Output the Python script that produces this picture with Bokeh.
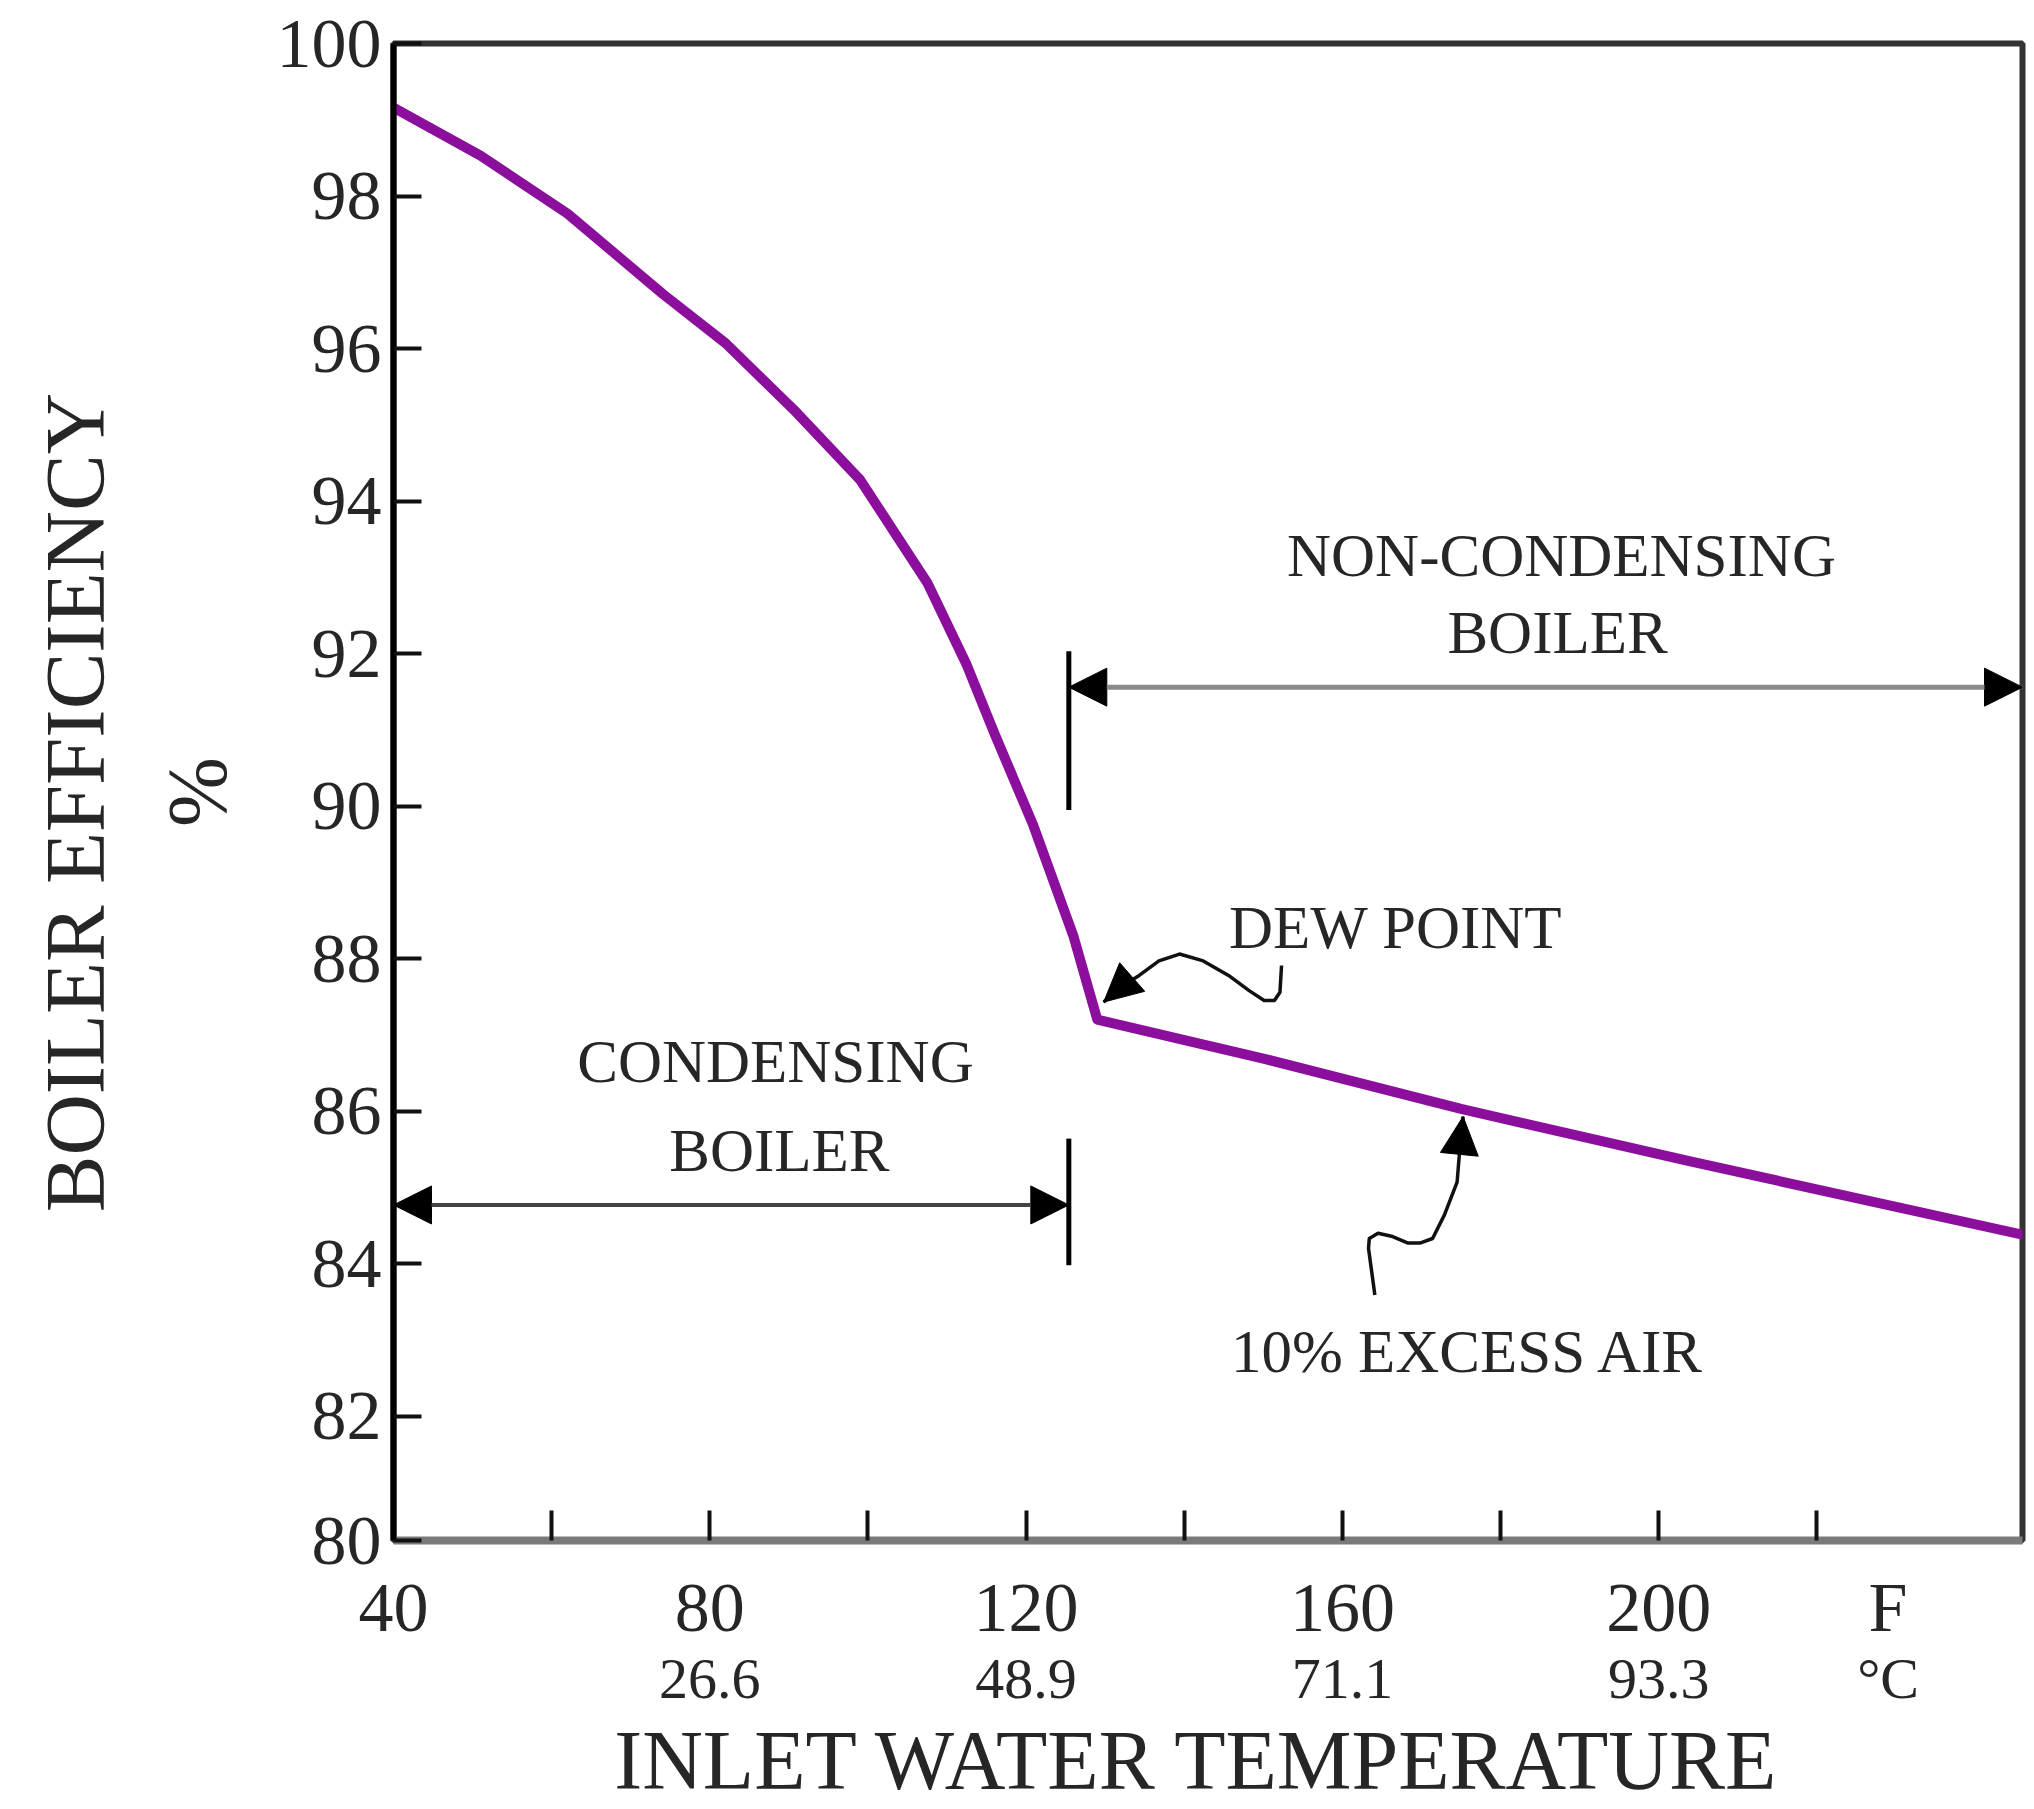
from bokeh.plotting import figure
from bokeh.models import Range1d, LinearAxis, FixedTicker, Arrow, NormalHead, Label
from bokeh.embed import file_html
from bokeh.resources import INLINE

# ---- data ----
temp_f = [40, 51, 62, 74, 82, 90.6, 99, 107.5, 112.5, 116, 120.9, 126, 129, 150, 175, 204, 246]
efficiency = [99.16, 98.53, 97.77, 96.72, 96.07, 95.2, 94.28, 92.93, 91.85, 90.95, 89.75, 88.29, 87.2,
              86.69, 86.03, 85.34, 84.38]

y_ticks = [82, 84, 86, 88, 90, 92, 94, 96, 98, 100]
y_bottom = 80.37
y_corner_label = "80"
x_tick_marks = [60, 80, 100, 120, 140, 160, 180, 200, 220]
f_positions = [40, 80, 120, 160, 200, 229]
f_labels = ["40", "80", "120", "160", "200", "F"]
c_positions = [80, 120, 160, 200, 229]
c_labels = ["26.6", "48.9", "71.1", "93.3", "\u00b0C"]

y_title = "BOILER  EFFICIENCY"
y_unit = "%"
x_title = "INLET  WATER TEMPERATURE"

boundary_f = 125.4
upper_arrow_y = 91.56
upper_bar = (89.95, 92.03)
lower_arrow_y = 84.77
lower_bar = (83.98, 85.64)

dew_x = [129.8, 132.0, 134.3, 136.8, 139.4, 142.4, 145.6, 148.2, 150.1, 151.4, 152.1, 152.3]
dew_y = [87.43, 87.63, 87.78, 87.97, 88.06, 87.97, 87.78, 87.58, 87.45, 87.45, 87.56, 87.91]
air_x = [175.26, 174.8, 174.5, 172.9, 171.4, 169.8, 168.3, 166.2, 164.5, 163.4, 163.3, 164.1]
air_y = [85.93, 85.45, 85.07, 84.64, 84.33, 84.27, 84.27, 84.36, 84.40, 84.33, 84.20, 83.59]

texts = [
    ("NON-CONDENSING", 187.7, 93.29),
    ("BOILER", 187.2, 92.28),
    ("CONDENSING", 88.3, 86.65),
    ("BOILER", 88.8, 85.49),
    ("DEW POINT", 166.75, 88.41),
    ("10% EXCESS AIR", 175.9, 82.85),
]

FONT = "Liberation Serif"
CURVE = "#8B0E9C"
TXT = "#262626"

p = figure(width=2034, height=1809,
           x_range=Range1d(40, 246), y_range=Range1d(y_bottom, 100),
           output_backend="svg", toolbar_location=None,
           x_axis_location=None, y_axis_location=None,
           min_border_left=393, min_border_right=12, min_border_top=43, min_border_bottom=266)
p.grid.visible = False
p.background_fill_color = "white"
p.border_fill_color = "white"
p.outline_line_color = "#333333"
p.outline_line_width = 6

# ---- left axes ----
yax = LinearAxis(ticker=FixedTicker(ticks=[y_bottom] + y_ticks),
                 major_label_overrides={y_bottom: y_corner_label})
yax.axis_line_color = "black"
yax.axis_line_width = 6
yax.major_tick_in = 28
yax.major_tick_out = 0
yax.major_tick_line_color = "#111111"
yax.major_tick_line_width = 4
yax.minor_tick_line_color = None
yax.major_label_text_font = FONT
yax.major_label_text_font_size = "70px"
yax.major_label_text_color = TXT
yax.major_label_standoff = 12
yax.axis_label = y_unit
yax.axis_label_text_font = FONT
yax.axis_label_text_font_size = "84px"
yax.axis_label_text_font_style = "normal"
yax.axis_label_text_color = TXT
yax.axis_label_standoff = 30
p.add_layout(yax, "left")

ytitle = LinearAxis(ticker=FixedTicker(ticks=[]))
ytitle.axis_line_color = None
ytitle.major_tick_line_color = None
ytitle.minor_tick_line_color = None
ytitle.major_label_standoff = 0
ytitle.axis_label = y_title
ytitle.axis_label_text_font = FONT
ytitle.axis_label_text_font_size = "85px"
ytitle.axis_label_text_font_style = "normal"
ytitle.axis_label_text_color = TXT
ytitle.axis_label_standoff = 26
p.add_layout(ytitle, "left")

# ---- bottom axes ----
xb = LinearAxis(ticker=FixedTicker(ticks=f_positions, minor_ticks=x_tick_marks),
                major_label_overrides=dict(zip(f_positions, f_labels)))
xb.axis_line_color = "#7a7a7a"
xb.axis_line_width = 8
xb.major_tick_line_color = None
xb.minor_tick_in = 30
xb.minor_tick_out = 0
xb.minor_tick_line_color = "#111111"
xb.minor_tick_line_width = 4
xb.major_label_text_font = FONT
xb.major_label_text_font_size = "70px"
xb.major_label_text_color = TXT
xb.major_label_standoff = 22
p.add_layout(xb, "below")

xc = LinearAxis(ticker=FixedTicker(ticks=c_positions),
                major_label_overrides=dict(zip(c_positions, c_labels)))
xc.axis_line_color = None
xc.major_tick_line_color = None
xc.minor_tick_line_color = None
xc.major_label_text_font = FONT
xc.major_label_text_font_size = "58px"
xc.major_label_text_color = TXT
xc.major_label_standoff = -9
xc.axis_label = x_title
xc.axis_label_text_font = FONT
xc.axis_label_text_font_size = "84px"
xc.axis_label_text_font_style = "normal"
xc.axis_label_text_color = TXT
xc.axis_label_standoff = 0
p.add_layout(xc, "below")

# ---- curve ----
p.line(temp_f, efficiency, line_color=CURVE, line_width=10, line_join="round", line_cap="round")

# ---- range markers ----
def head():
    return NormalHead(size=38, fill_color="black", line_color="black", line_width=1)

p.add_layout(Arrow(start=head(), end=head(), x_start=boundary_f, y_start=upper_arrow_y,
                   x_end=246, y_end=upper_arrow_y, line_color="#8a8a8a", line_width=5))
p.segment(x0=[boundary_f], y0=[upper_bar[0]], x1=[boundary_f], y1=[upper_bar[1]],
          line_color="black", line_width=5)
p.add_layout(Arrow(start=head(), end=head(), x_start=40, y_start=lower_arrow_y,
                   x_end=boundary_f, y_end=lower_arrow_y, line_color="#444444", line_width=4))
p.segment(x0=[boundary_f], y0=[lower_bar[0]], x1=[boundary_f], y1=[lower_bar[1]],
          line_color="black", line_width=5)

# ---- squiggly pointers ----
p.line(dew_x, dew_y, line_color="#111111", line_width=3.5, line_join="round")
p.add_layout(Arrow(end=head(), x_start=dew_x[1], y_start=dew_y[1], x_end=dew_x[0], y_end=dew_y[0],
                   line_color="#111111", line_width=3.5))
p.line(air_x, air_y, line_color="#111111", line_width=3.5, line_join="round")
p.add_layout(Arrow(end=head(), x_start=air_x[1], y_start=air_y[1], x_end=air_x[0], y_end=air_y[0],
                   line_color="#111111", line_width=3.5))

# ---- texts ----
for t, x, y in texts:
    p.add_layout(Label(x=x, y=y, text=t, text_align="center", text_baseline="middle",
                       text_font=FONT, text_font_size="61px", text_color=TXT))

open("out.html", "w").write(file_html(p, INLINE))
